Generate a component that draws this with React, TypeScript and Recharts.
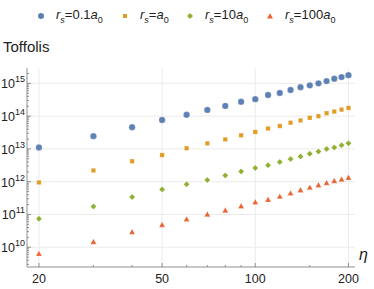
import { ScatterChart, Scatter, XAxis, YAxis, ReferenceLine } from "recharts";

// η values (x axis)
const eta = [20, 30, 40, 50, 60, 70, 80, 90, 100, 110, 120, 130, 140, 150, 160, 170, 180, 190, 200];

// Toffoli counts
const rs01 = [1.1e13, 2.45e13, 4.6e13, 7.6e13, 1.1e14, 1.55e14, 2.05e14, 2.75e14, 3.3e14, 4.4e14, 5.1e14, 6.3e14, 7.6e14, 8.7e14, 1.0e15, 1.17e15, 1.38e15, 1.55e15, 1.78e15];
const rs1 = [9.5e11, 2.2e12, 4.2e12, 6.5e12, 1.05e13, 1.48e13, 1.95e13, 2.6e13, 3.3e13, 4.2e13, 5.0e13, 6.3e13, 7.4e13, 8.9e13, 1.0e14, 1.23e14, 1.38e14, 1.58e14, 1.78e14];
const rs10 = [7.4e10, 1.74e11, 3.4e11, 5.8e11, 8.3e11, 1.12e12, 1.55e12, 2.05e12, 2.6e12, 3.2e12, 4.0e12, 4.9e12, 5.9e12, 7.1e12, 8.3e12, 1.0e13, 1.1e13, 1.3e13, 1.48e13];
const rs100 = [6.3e9, 1.45e10, 2.9e10, 4.8e10, 7.1e10, 1.0e11, 1.32e11, 1.78e11, 2.35e11, 2.8e11, 3.5e11, 4.4e11, 5.5e11, 6.6e11, 7.8e11, 9.1e11, 1.05e12, 1.17e12, 1.32e12];

const xMajor = [20, 50, 100, 200];
const xMinor = [30, 40, 60, 70, 80, 90, 150];
const yMajor = [1e10, 1e11, 1e12, 1e13, 1e14, 1e15];

const BLUE = "#5e81b5";
const ORANGE = "#e19c24";
const GREEN = "#8fb032";
const RED = "#eb6235";
const AXIS = "#8f8f8f";
const GRID = "#ebebeb";
const FONT = "'Liberation Sans', Arial, sans-serif";

const toPts = (ys: number[]) => eta.map((x, i) => ({ x, y: ys[i] }));

const yMinor: number[] = [];
for (let e = 9; e <= 15; e++) {
  for (let m = 2; m <= 9; m++) {
    const v = m * Math.pow(10, e);
    if (v > 2.5e9 && v < 2.9e15) yMinor.push(v);
  }
}
const yTicks = [...yMajor, ...yMinor].sort((a, b) => a - b);
const xTicks = [...xMajor, ...xMinor].sort((a, b) => a - b);

const XTick = (props: any) => {
  const { x, y, payload } = props;
  const major = xMajor.includes(payload.value);
  return (
    <g>
      <line x1={x} x2={x} y1={y} y2={y - (major ? 4 : 2)} stroke={AXIS} />
      {major && (
        <text x={x} y={y + 16} textAnchor="middle" fontSize={12.5} fill="#222" fontFamily={FONT}>
          {payload.value}
        </text>
      )}
    </g>
  );
};

const YTick = (props: any) => {
  const { x, y, payload } = props;
  const major = yMajor.some((v) => Math.abs(v - payload.value) / v < 1e-6);
  const exp = Math.round(Math.log10(payload.value));
  return (
    <g>
      <line x1={x} x2={x + (major ? 4 : 2)} y1={y} y2={y} stroke={AXIS} />
      {major && (
        <text x={x - 2} y={y + 5} textAnchor="end" fontSize={12.5} fill="#222" fontFamily={FONT}>
          <tspan>10</tspan>
          <tspan dy={-6} fontSize={9}>{exp}</tspan>
        </text>
      )}
    </g>
  );
};

const Dot = (c: string) => (p: any) => <circle cx={p.cx} cy={p.cy} r={3.2} fill={c} stroke="#fff" strokeOpacity={0.4} strokeWidth={0.6} />;
const Sq = (c: string) => (p: any) => <rect x={p.cx - 2.2} y={p.cy - 2.2} width={4.4} height={4.4} fill={c} stroke="#fff" strokeOpacity={0.4} strokeWidth={0.6} />;
const Dia = (c: string) => (p: any) => (
  <path d={`M${p.cx},${p.cy - 3}L${p.cx + 3},${p.cy}L${p.cx},${p.cy + 3}L${p.cx - 3},${p.cy}Z`} fill={c} stroke="#fff" strokeOpacity={0.4} strokeWidth={0.6} />
);
const Tri = (c: string) => (p: any) => (
  <path d={`M${p.cx},${p.cy - 3.2}L${p.cx + 3},${p.cy + 2.2}L${p.cx - 3},${p.cy + 2.2}Z`} fill={c} stroke="#fff" strokeOpacity={0.4} strokeWidth={0.6} />
);

const legendItems = [
  { left: 37, textLeft: 56, color: BLUE, kind: "dot", val: "0.1" },
  { left: 121, textLeft: 140, color: ORANGE, kind: "sq", val: "" },
  { left: 186, textLeft: 205, color: GREEN, kind: "dia", val: "10" },
  { left: 266, textLeft: 285, color: RED, kind: "tri", val: "100" },
];

const LegendMark = ({ kind, color }: { kind: string; color: string }) => (
  <svg width={8} height={8} style={{ position: "absolute", top: 12 }}>
    {kind === "dot" && <circle cx={4} cy={4} r={3} fill={color} />}
    {kind === "sq" && <rect x={2} y={2} width={4} height={4} fill={color} />}
    {kind === "dia" && <path d="M4,1L7,4L4,7L1,4Z" fill={color} />}
    {kind === "tri" && <path d="M4,1.3L7,6.5L1,6.5Z" fill={color} />}
  </svg>
);

export default function App() {
  return (
    <div style={{ position: "absolute", left: 0, top: 0, width: 374, height: 289, background: "#fff", fontFamily: FONT }}>
      {legendItems.map((it, i) => (
        <div key={i}>
          <div style={{ position: "absolute", left: it.left }}>
            <LegendMark kind={it.kind} color={it.color} />
          </div>
          <div style={{ position: "absolute", left: it.textLeft, top: 7, fontSize: 13, color: "#222", whiteSpace: "nowrap" }}>
            <i>r</i>
            <sub style={{ fontSize: 9, fontStyle: "italic" }}>s</sub>={it.val}
            <i>a</i>
            <sub style={{ fontSize: 9 }}>0</sub>
          </div>
        </div>
      ))}
      <div style={{ position: "absolute", left: 3, top: 38, fontSize: 15, color: "#222" }}>Toffolis</div>
      <div style={{ position: "absolute", left: 359, top: 246, fontSize: 16, fontStyle: "italic", color: "#222" }}>η</div>
      <ScatterChart width={374} height={289} margin={{ top: 68, right: 19, bottom: 0, left: 0 }}>
        {xMajor.map((v) => (
          <ReferenceLine key={"vx" + v} x={v} stroke={GRID} />
        ))}
        {yMajor.map((v) => (
          <ReferenceLine key={"hy" + v} y={v} stroke={GRID} />
        ))}
        <XAxis
          type="number"
          dataKey="x"
          scale="log"
          domain={[18.3, 210]}
          allowDataOverflow
          ticks={xTicks}
          interval={0}
          tick={<XTick />}
          tickLine={false}
          tickSize={0}
          tickMargin={0}
          height={22}
          axisLine={{ stroke: AXIS }}
        />
        <YAxis
          type="number"
          dataKey="y"
          scale="log"
          domain={[2.5e9, 2.94e15]}
          allowDataOverflow
          ticks={yTicks}
          interval={0}
          tick={<YTick />}
          tickLine={false}
          tickSize={0}
          tickMargin={0}
          width={27}
          axisLine={{ stroke: AXIS }}
        />
        <Scatter data={toPts(rs01)} shape={Dot(BLUE)} isAnimationActive={false} />
        <Scatter data={toPts(rs1)} shape={Sq(ORANGE)} isAnimationActive={false} />
        <Scatter data={toPts(rs10)} shape={Dia(GREEN)} isAnimationActive={false} />
        <Scatter data={toPts(rs100)} shape={Tri(RED)} isAnimationActive={false} />
      </ScatterChart>
    </div>
  );
}
